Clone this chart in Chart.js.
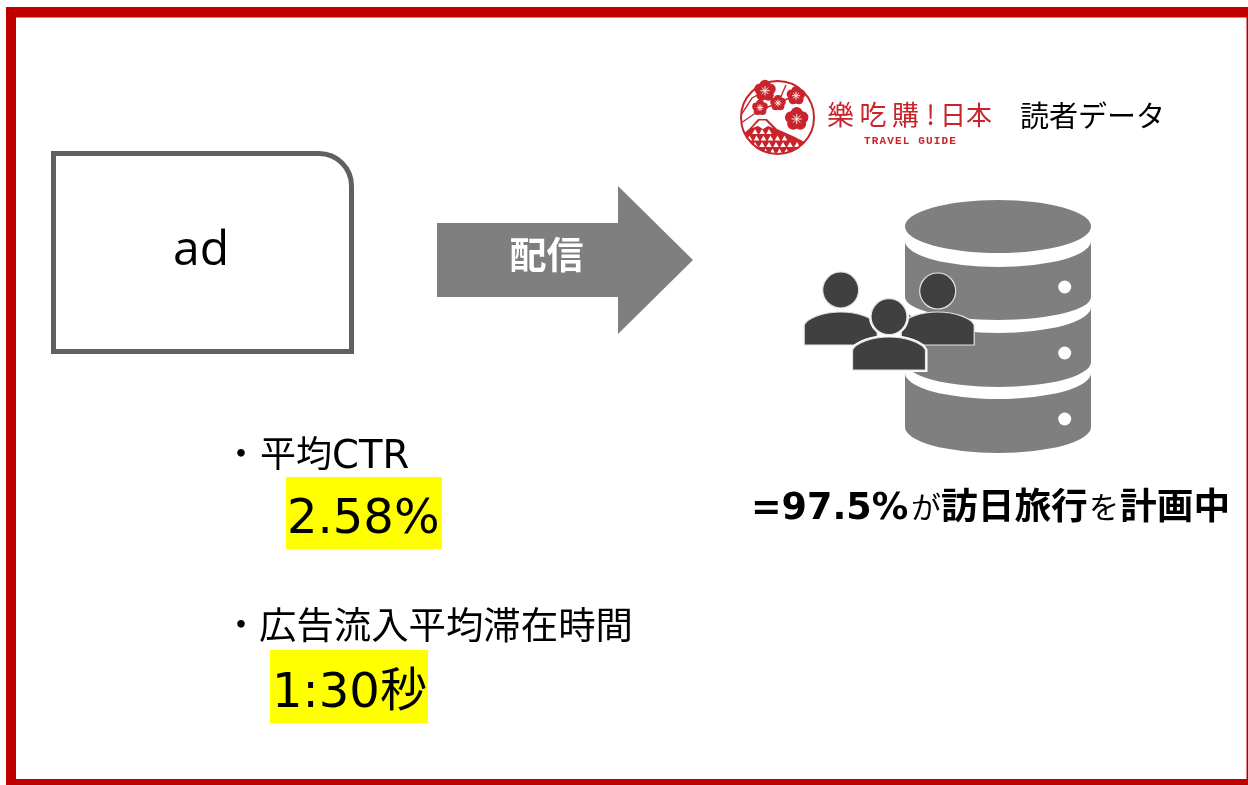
<!DOCTYPE html>
<html lang="ja">
<head>
    <meta charset="UTF-8">
    <title>樂吃購!日本 読者データ</title>
    <script src="https://cdn.jsdelivr.net/npm/chart.js"></script>
    <style>
        html, body { margin: 0; padding: 0; background: #fff; }
        canvas { display: block; }
    </style>
</head>
<body>
<canvas id="chartCanvas" width="1248" height="785"></canvas>

<script>
    // picture content
    const adLabel = 'ad';
    const arrowLabel = '配信';
    const metricBullet = '・';
    const metricNames = ['平均', 'CTR', '広告流入平均滞在時間'];
    const metricValues = ['2.58%', '1:30', '秒'];
    const brandLabels = ['樂吃購', '!', '日本'];
    const brandSub = 'TRAVEL GUIDE';
    const readerLabel = '読者データ';
    const shareValue = '=97.5%';
    const shareWords = ['が', '訪日旅行', 'を', '計画中'];

    const RED = '#c00000';
    const LOGO_RED = '#c9242c';
    const GRAY = '#7f7f7f';
    const DARK = '#404040';
    const JP = '"Noto Sans CJK JP"';
    const LATIN = '"DejaVu Sans"';

    const diagram = {
        id: 'diagram',
        afterDraw(chart) {
            const ctx = chart.ctx;
            const X = v => chart.scales.x.getPixelForValue(v);
            const Y = v => chart.scales.y.getPixelForValue(v);

            function rect(x0, y0, x1, y1, color) {
                ctx.fillStyle = color;
                ctx.fillRect(X(x0), Y(y0), X(x1) - X(x0), Y(y1) - Y(y0));
            }
            function text(str, x, y, font, color, align, spacing) {
                ctx.font = font;
                ctx.fillStyle = color || '#000';
                ctx.textAlign = align || 'left';
                ctx.textBaseline = 'alphabetic';
                ctx.letterSpacing = spacing || '0px';
                ctx.fillText(str, X(x), Y(y));
                ctx.letterSpacing = '0px';
            }
            function poly(points, color) {
                ctx.beginPath();
                points.forEach((p, i) => i ? ctx.lineTo(X(p[0]), Y(p[1])) : ctx.moveTo(X(p[0]), Y(p[1])));
                ctx.closePath();
                ctx.fillStyle = color;
                ctx.fill();
            }
            function disc(x, y, r, color) {
                ctx.beginPath();
                ctx.arc(X(x), Y(y), r, 0, Math.PI * 2);
                ctx.fillStyle = color;
                ctx.fill();
            }

            ctx.save();

            // red frame
            rect(6, 7, 1248, 17.5, RED);
            rect(6, 7, 16, 785, RED);
            rect(1246.5, 7, 1248, 785, RED);
            rect(6, 779, 1248, 785, RED);

            // ad box, one rounded corner
            ctx.beginPath();
            ctx.moveTo(X(53.5), Y(153.5));
            ctx.lineTo(X(319), Y(153.5));
            ctx.arcTo(X(351.5), Y(153.5), X(351.5), Y(186), 32.5);
            ctx.lineTo(X(351.5), Y(351.5));
            ctx.lineTo(X(53.5), Y(351.5));
            ctx.closePath();
            ctx.strokeStyle = '#606060';
            ctx.lineWidth = 5;
            ctx.stroke();
            text(adLabel, 201, 265, '48px "Open Sans"', '#000', 'center');

            // arrow
            poly([[437, 223], [618, 223], [618, 186], [693, 260], [618, 334], [618, 297], [437, 297]], GRAY);
            text(arrowLabel, 546.5, 269, `bold 37px ${JP}`, '#fff', 'center');

            // metrics
            text(metricBullet, 223, 467, `36px ${JP}`);
            text(metricNames[0], 260, 467, `36px ${JP}`);
            text(metricNames[1], 332, 468, `38.5px ${LATIN}`);
            rect(286, 477, 442, 549, '#ffff00');
            text(metricValues[0], 287, 533, `48px ${LATIN}`);

            text(metricBullet, 223, 638, `36px ${JP}`);
            text(metricNames[2], 259, 639, `37.4px ${JP}`);
            rect(270, 650, 428, 723, '#ffff00');
            text(metricValues[1], 272, 707, `48px ${LATIN}`);
            text(metricValues[2], 380, 706, `47px ${JP}`);

            // database
            const cx = 998, rx = 93;
            ctx.beginPath();
            ctx.ellipse(X(cx), Y(226.5), rx, 26.5, 0, 0, Math.PI * 2);
            ctx.fillStyle = GRAY;
            ctx.fill();
            [[241, 267, 297, 320], [307, 333, 362, 387], [373, 399, 427, 453]].forEach(t => {
                ctx.beginPath();
                ctx.moveTo(X(cx - rx), Y(t[0]));
                ctx.ellipse(X(cx), Y(t[0]), rx, t[1] - t[0], 0, Math.PI, 0, true);
                ctx.lineTo(X(cx + rx), Y(t[2]));
                ctx.ellipse(X(cx), Y(t[2]), rx, t[3] - t[2], 0, 0, Math.PI, false);
                ctx.closePath();
                ctx.fillStyle = GRAY;
                ctx.fill();
                disc(1064.7, t[0] + 46, 6.5, '#fff');
            });

            // readers
            function person(hx, hy, top, bottom, halo) {
                const l = hx - 36.5, r = hx + 36.5;
                ctx.beginPath();
                ctx.moveTo(X(l), Y(bottom));
                ctx.lineTo(X(l), Y(bottom - 20));
                ctx.bezierCurveTo(X(l + 3), Y(top + 6), X(hx - 18), Y(top), X(hx), Y(top));
                ctx.bezierCurveTo(X(hx + 18), Y(top), X(r - 3), Y(top + 6), X(r), Y(bottom - 20));
                ctx.lineTo(X(r), Y(bottom));
                ctx.closePath();
                if (halo) {
                    ctx.strokeStyle = '#fff';
                    ctx.lineWidth = 4;
                    ctx.stroke();
                }
                ctx.fillStyle = DARK;
                ctx.strokeStyle = '#e4e4e4';
                ctx.lineWidth = 1.2;
                ctx.fill();
                ctx.stroke();
                ctx.beginPath();
                ctx.arc(X(hx), Y(hy), 18, 0, Math.PI * 2);
                if (halo) {
                    ctx.strokeStyle = '#fff';
                    ctx.lineWidth = 4;
                    ctx.stroke();
                    ctx.strokeStyle = '#e4e4e4';
                    ctx.lineWidth = 1.2;
                }
                ctx.fill();
                ctx.stroke();
            }
            person(840.7, 290, 312, 345, false);
            person(937.7, 291, 312, 345, false);
            person(889, 316.7, 337, 370, true);

            // share line
            text(shareValue, 751, 519, `bold 36.5px ${LATIN}`);
            text(shareWords[0], 911, 518, `30px ${JP}`);
            text(shareWords[1], 941, 519, `bold 36.7px ${JP}`);
            text(shareWords[2], 1089, 518, `30px ${JP}`);
            text(shareWords[3], 1120, 519, `bold 36.7px ${JP}`);

            // heading
            text(readerLabel, 1020, 127, `29px ${JP}`);
            text(brandLabels[0], 827, 125, `27px ${JP}`, LOGO_RED, 'left', '5.5px');
            text(brandLabels[1], 930.5, 125, `27px ${JP}`, LOGO_RED, 'center');
            text(brandLabels[2], 940, 125, `26px ${JP}`, LOGO_RED);
            text(brandSub, 864, 144, `bold 11px "Liberation Mono"`, LOGO_RED, 'left', '1.15px');

            // logo stamp
            const lx = 777.5, ly = 117.5;
            ctx.save();
            ctx.beginPath();
            ctx.arc(X(lx), Y(ly), 36.5, 0, Math.PI * 2);
            ctx.clip();
            // mountain with snowcap and triangle rows
            poly([[758, 119], [767, 119], [777, 129], [795, 137], [812, 146], [812, 160], [738, 160], [740, 137], [750, 128]], LOGO_RED);
            poly([[759.5, 120.5], [765.5, 120.5], [773, 128], [768, 126], [763, 129], [758, 126], [752, 128]], '#fff');
            [[129, 755, 772], [135.5, 746, 790], [142, 741, 803], [148.5, 741, 812]].forEach((row, n) => {
                for (let xx = row[1] + (n % 2 ? 3.5 : 0); xx < row[2]; xx += 7) {
                    poly([[xx, row[0]], [xx + 2.8, row[0] + 5], [xx - 2.8, row[0] + 5]], '#fff');
                }
            });
            // branches
            ctx.strokeStyle = LOGO_RED;
            ctx.lineWidth = 1.4;
            [[[741, 123], [760, 110], [778, 103], [796, 95]], [[778, 103], [786, 85]], [[741, 115], [752, 98], [765, 91]]].forEach(b => {
                ctx.beginPath();
                b.forEach((p, i) => i ? ctx.lineTo(X(p[0]), Y(p[1])) : ctx.moveTo(X(p[0]), Y(p[1])));
                ctx.stroke();
            });
            ctx.restore();
            ctx.beginPath();
            ctx.arc(X(lx), Y(ly), 36.5, 0, Math.PI * 2);
            ctx.strokeStyle = LOGO_RED;
            ctx.lineWidth = 2;
            ctx.stroke();
            // plum blossoms with a small white star in the middle
            [[765, 90.7, 11], [796, 95.7, 9.5], [778, 103, 8], [760, 107.7, 8], [796.7, 119, 12]].forEach(f => {
                for (let i = 0; i < 5; i++) {
                    const a = -Math.PI / 2 + i * Math.PI * 2 / 5;
                    disc(f[0] + Math.cos(a) * f[2] * 0.5, f[1] + Math.sin(a) * f[2] * 0.5, f[2] * 0.5, LOGO_RED);
                }
                disc(f[0], f[1], f[2] * 0.42, LOGO_RED);
                ctx.strokeStyle = '#fbeaea';
                ctx.lineWidth = 1;
                for (let i = 0; i < 8; i++) {
                    const a = i * Math.PI / 4;
                    ctx.beginPath();
                    ctx.moveTo(X(f[0]), Y(f[1]));
                    ctx.lineTo(X(f[0] + Math.cos(a) * f[2] * 0.42), Y(f[1] + Math.sin(a) * f[2] * 0.42));
                    ctx.stroke();
                }
            });

            ctx.restore();
        }
    };

    new Chart(document.getElementById('chartCanvas'), {
        type: 'scatter',
        data: { datasets: [] },
        options: {
            responsive: false,
            animation: false,
            layout: { padding: 0 },
            plugins: { legend: { display: false }, tooltip: { enabled: false } },
            scales: {
                x: { type: 'linear', display: false, min: 0, max: 1248 },
                y: { type: 'linear', display: false, min: 0, max: 785, reverse: true }
            }
        },
        plugins: [diagram]
    });
</script>

</body>
</html>
